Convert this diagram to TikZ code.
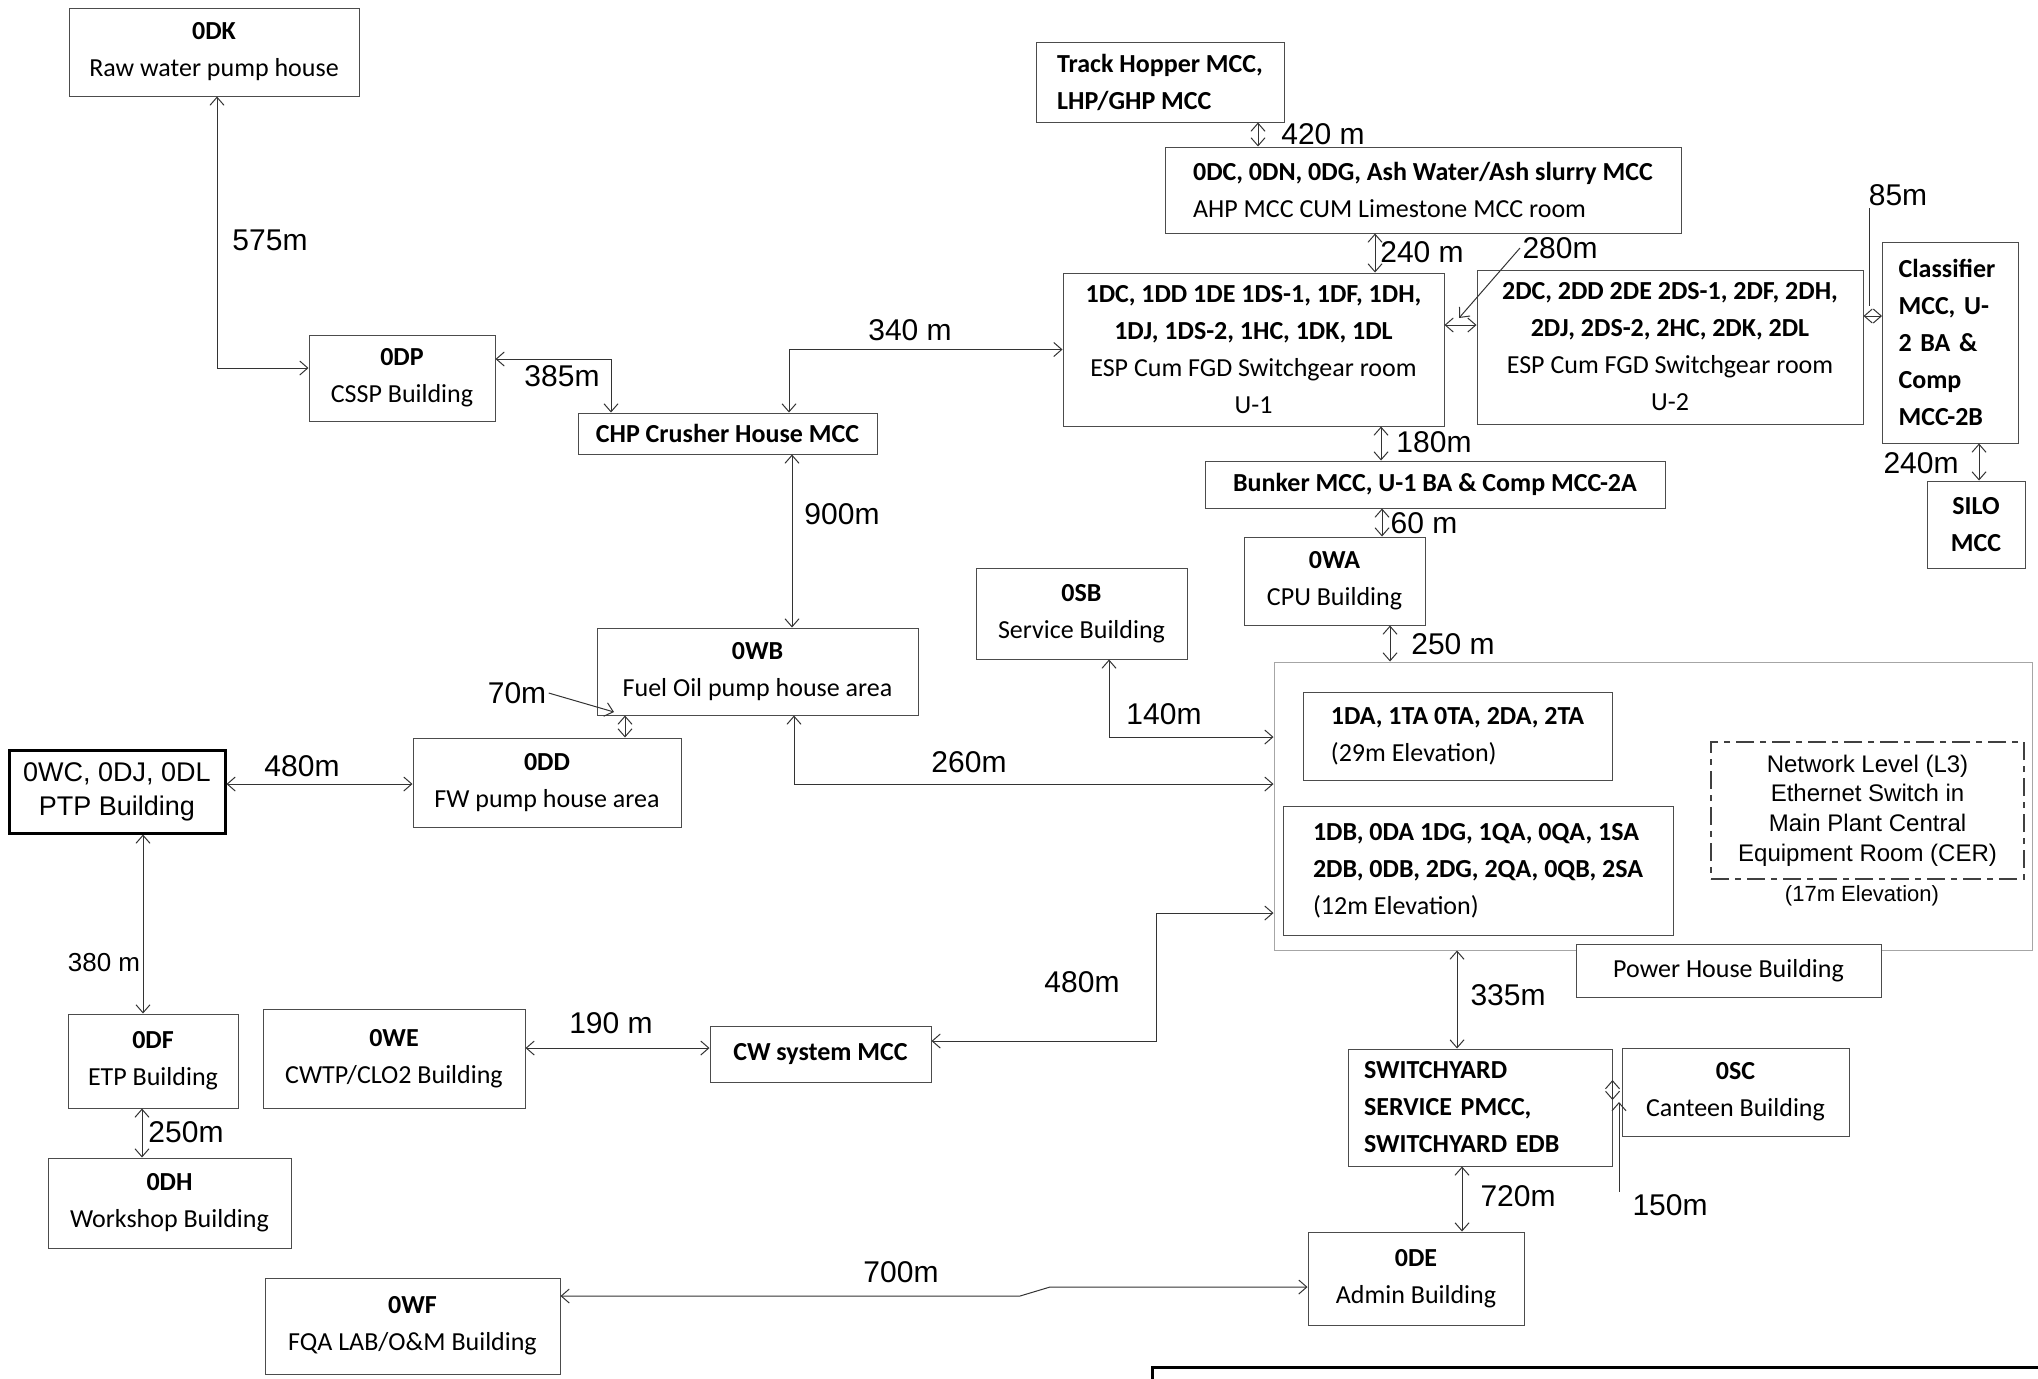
\documentclass[tikz,border=0pt]{standalone}
\usepackage{fontspec}
\setmainfont{Carlito}
\newfontfamily\arialfont{Liberation Sans}
\usetikzlibrary{arrows.meta, positioning}

\newcommand{\boxfont}{\fontsize{13}{18.5}\selectfont}
\newcommand{\handfont}{\arialfont\fontsize{15}{15}\selectfont}

\tikzset{
  plan/.style={
    x=0.5pt, y=-0.5pt,
    font=\boxfont,
    >={Straight Barb[length=4pt, width=7pt]},
    line width=0.5pt,
  },
  box/.style={draw=black!70, fill=white, inner sep=3pt, align=center},
  lbox/.style={box, align=left},
  bbox/.style={lbox, font=\boxfont\bfseries},
  ptpbox/.style={
    box, draw=black, line width=1.5pt,
    font=\arialfont\fontsize{13.5}{17}\selectfont,
  },
  zone/.style={draw=black!35, inner sep=0pt},
  cerbox/.style={
    draw=black!75, line width=1.1pt, align=center,
    dash pattern=on 9pt off 3pt on 3pt off 3pt,
    font=\arialfont\fontsize{12}{14.8}\selectfont,
  },
  link/.style={<->, draw=black!80},
  pointer/.style={->, draw=black!80},
  dist/.style={font=\handfont, inner sep=1pt},
}

\begin{document}
\begin{tikzpicture}[plan]
  \useasboundingbox (0,0) rectangle (2038,1378);

  % power house area
  \node[zone, minimum width=379pt, minimum height=144pt] (ph) at (1653,806) {};
  \node[lbox, minimum width=154.5pt, minimum height=44pt] (pha) at (1457.5,736) {\textbf{1DA, 1TA 0TA, 2DA, 2TA}\\(29m Elevation)};
  \node[lbox, minimum width=195pt, minimum height=64.5pt] (phb) at (1478,870.5) {\textbf{1DB, 0DA 1DG, 1QA, 0QA, 1SA}\\\textbf{2DB, 0DB, 2DG, 2QA, 0QB, 2SA}\\(12m Elevation)};
  \node[cerbox, minimum width=156.5pt, minimum height=68.5pt] (cer) at (1867.5,810.5) {Network Level (L3)\\Ethernet Switch in\\Main Plant Central\\Equipment Room (CER)};
  \node[font=\arialfont\fontsize{11}{13}\selectfont] (cerlvl) at (1862,896) {(17m Elevation)};
  \node[box, minimum width=152.5pt, minimum height=26.5pt] (phname) at (1728.5,970.5) {Power House Building};

  % buildings
  \node[box, minimum width=145pt, minimum height=44pt] (odk) at (214,52) {\textbf{0DK}\\Raw water pump house};
  \node[box, minimum width=93pt, minimum height=43pt] (odp) at (402,378) {\textbf{0DP}\\CSSP Building};
  \node[box, font=\boxfont\bfseries, minimum width=149.5pt, minimum height=20.5pt] (chp) at (727.5,433.5) {CHP Crusher House MCC};
  \node[bbox, minimum width=124pt, minimum height=40pt] (track) at (1160,82) {Track Hopper MCC,\\LHP/GHP MCC};
  \node[lbox, minimum width=258pt, minimum height=43pt] (odc) at (1423,190) {\textbf{0DC, 0DN, 0DG, Ash Water/Ash slurry MCC}\\AHP MCC CUM Limestone MCC room};
  \node[box, minimum width=190.5pt, minimum height=76.5pt] (u1) at (1253.5,349.5) {\textbf{1DC, 1DD 1DE 1DS-1, 1DF, 1DH,}\\\textbf{1DJ, 1DS-2, 1HC, 1DK, 1DL}\\ESP Cum FGD Switchgear room\\U-1};
  \node[box, minimum width=193pt, minimum height=77pt] (u2) at (1670,347) {\textbf{2DC, 2DD 2DE 2DS-1, 2DF, 2DH,}\\\textbf{2DJ, 2DS-2, 2HC, 2DK, 2DL}\\ESP Cum FGD Switchgear room\\U-2};
  \node[bbox, inner xsep=8pt, text width=52pt, minimum height=100.5pt] (cls) at (1950.5,342.5) {Classifier\\MCC, U-\\2 BA \&\\Comp\\MCC-2B};
  \node[box, font=\boxfont\bfseries, minimum width=49pt, minimum height=43.5pt] (silo) at (1976,524.5) {SILO\\MCC};
  \node[box, font=\boxfont\bfseries, minimum width=230pt, minimum height=23.5pt] (bunker) at (1435,484.5) {Bunker MCC, U-1 BA \& Comp MCC-2A};
  \node[box, minimum width=90.5pt, minimum height=44pt] (owa) at (1334.5,581) {\textbf{0WA}\\CPU Building};
  \node[box, minimum width=105.5pt, minimum height=45.5pt] (osb) at (1081.5,613.5) {\textbf{0SB}\\Service Building};
  \node[box, minimum width=160.5pt, minimum height=43.5pt] (owb) at (757.5,671.5) {\textbf{0WB}\\Fuel Oil pump house area};
  \node[box, minimum width=134pt, minimum height=44.5pt] (odd) at (547,782.5) {\textbf{0DD}\\FW pump house area};
  \node[ptpbox, minimum width=108pt, minimum height=41.5pt] (owc) at (117,791.5) {0WC, 0DJ, 0DL\\PTP Building};
  \node[box, minimum width=85pt, minimum height=47pt] (odf) at (153,1061) {\textbf{0DF}\\ETP Building};
  \node[box, minimum width=131pt, minimum height=49.5pt] (owe) at (394,1058.5) {\textbf{0WE}\\CWTP/CLO2 Building};
  \node[box, font=\boxfont\bfseries, minimum width=110.5pt, minimum height=28pt] (cw) at (820.5,1054) {CW system MCC};
  \node[box, minimum width=121.5pt, minimum height=45pt] (odh) at (169.5,1203) {\textbf{0DH}\\Workshop Building};
  \node[box, minimum width=147.5pt, minimum height=48pt] (owf) at (412.5,1326) {\textbf{0WF}\\FQA LAB/O\&M Building};
  \node[box, minimum width=108pt, minimum height=46.5pt] (ode) at (1416,1278.5) {\textbf{0DE}\\Admin Building};
  \node[bbox, inner xsep=8pt, text width=116pt, minimum height=58.5pt] (sw) at (1480,1107.5) {SWITCHYARD\\SERVICE PMCC,\\SWITCHYARD EDB};
  \node[box, minimum width=113.5pt, minimum height=44pt] (osc) at (1735.5,1092) {\textbf{0SC}\\Canteen Building};

  % distances
  \node[dist] (d575) at (270,240) {575m};
  \node[dist] (d385) at (562,376) {385m};
  \node[dist] (d340) at (910,330) {340 m};
  \node[dist] (d900) at (842,514) {900m};
  \node[dist] (d70) at (517,693) {70m};
  \node[dist] (d260) at (969,762) {260m};
  \node[dist] (d140) at (1164,714) {140m};
  \node[dist] (d480a) at (1082,982) {480m};
  \node[dist] (d480b) at (302,766) {480m};
  \node[dist, font=\arialfont\fontsize{13}{13}\selectfont] (d380) at (104,963) {380 m};
  \node[dist] (d250a) at (186,1132) {250m};
  \node[dist] (d190) at (611,1023) {190 m};
  \node[dist] (d700) at (901,1272) {700m};
  \node[dist] (d335) at (1508,995) {335m};
  \node[dist] (d720) at (1518,1196) {720m};
  \node[dist] (d150) at (1670,1205) {150m};
  \node[dist] (d420) at (1323,134) {420 m};
  \node[dist] (d240a) at (1422,252) {240 m};
  \node[dist] (d280) at (1560,248) {280m};
  \node[dist] (d85) at (1898,195) {85m};
  \node[dist] (d180) at (1434,442) {180m};
  \node[dist] (d60) at (1424,523) {60 m};
  \node[dist] (d250b) at (1453,644) {250 m};
  \node[dist] (d240b) at (1921,463) {240m};

  % cable routes
  \draw[link] (odk.south -| 217,0) |- (odp.west |- 0,368);
  \draw[link] (odp.east |- 0,359) -| (chp.north -| 611,0);
  \draw[link] (chp.north -| 789,0) |- (u1.west);
  \draw[link] (chp.south -| 792,0) -- (owb.north -| 792,0);
  \draw[link] (owb.south -| 625,0) -- (odd.north -| 625,0);
  \draw[pointer] (d70.east) -- (614,712);
  \draw[link] (owb.south -| 794,0) |- (ph.west |- 0,784);
  \draw[link] (osb.south -| 1109,0) |- (ph.west |- 0,737);
  \draw[link] (cw.east |- 0,1041) -- (1156,1041) |- (ph.west |- 0,913);
  \draw[link] (owc.east |- 0,784) -- (odd.west |- 0,784);
  \draw[link] (owc.south -| 143,0) -- (odf.north -| 143,0);
  \draw[link] (odf.south -| 142,0) -- (odh.north -| 142,0);
  \draw[link] (owe.east |- 0,1048) -- (cw.west |- 0,1048);
  \draw[link] (owf.east |- 0,1296) -- (1020,1296) -- (1050,1287) -- (ode.west |- 0,1287);
  \draw[link] (ph.south -| 1457,0) -- (sw.north -| 1457,0);
  \draw[link] (sw.south -| 1462,0) -- (ode.north -| 1462,0);
  \draw[link] (sw.east |- 0,1080) -- (sw.east |- 0,1100);
  \draw[pointer] (d150.north -| 1619,0) -- (1619,1102);
  \draw[link] (track.south -| 1258,0) -- (odc.north -| 1258,0);
  \draw[link] (odc.south -| 1375,0) -- (u1.north -| 1375,0);
  \draw[link] (u1.east |- 0,325) -- (u2.west |- 0,325);
  \draw[pointer] (d280.west) -- (1459,318);
  \draw[link] (u2.east |- 0,316) -- (cls.west |- 0,316);
  \draw[draw=black!80] (d85.south -| 1869,0) -- (1869,306);
  \draw[link] (u1.south -| 1381,0) -- (bunker.north -| 1381,0);
  \draw[link] (bunker.south -| 1382,0) -- (owa.north -| 1382,0);
  \draw[link] (owa.south -| 1390,0) -- (ph.north -| 1390,0);
  \draw[link] (cls.south -| 1979,0) -- (silo.north -| 1979,0);

  % note box, cut by the page edge
  \begin{scope}
    \clip (0,0) rectangle (2038,1378);
    \draw[line width=1.5pt] (1152,1367) rectangle (2060,1420);
  \end{scope}
\end{tikzpicture}
\end{document}
